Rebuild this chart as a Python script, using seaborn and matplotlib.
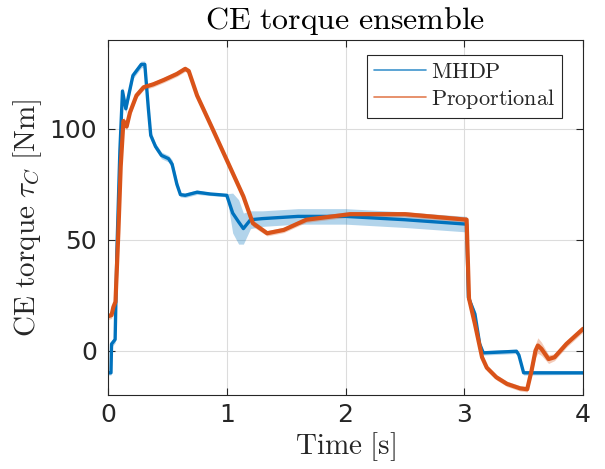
import numpy as np
import pandas as pd
import matplotlib
matplotlib.use("Agg")
import matplotlib.pyplot as plt
import seaborn as sns
from matplotlib.lines import Line2D

# ---------------- data ----------------
mhdp_t = [0, 0.025, 0.03, 0.06, 0.075, 0.10, 0.122, 0.15, 0.21, 0.28, 0.31, 0.34, 0.36, 0.40,
          0.45, 0.51, 0.54, 0.58, 0.61, 0.65, 0.75, 0.86, 1.00, 1.05, 1.10, 1.14, 1.20, 1.30,
          1.60, 2.00, 2.50, 3.02, 3.035, 3.09, 3.13, 3.16, 3.44, 3.46, 3.50, 4.00]
mhdp_v = [-10, -10, 3, 5, 45, 90, 117, 109, 124, 129, 129, 109, 97, 92,
          88, 86.5, 84, 75, 70.3, 70, 71.4, 70.6, 70, 62, 58, 55, 59, 59.5,
          60.5, 60.5, 59, 57, 24, 16.5, 3, -1, -0.3, -2, -10, -10]
mhdp_spread = [1, 1, 1.5, 1.5, 2, 2, 2, 2, 1.5, 1.5, 1.5, 2, 2, 1.5,
               1.5, 1.5, 2, 2, 1, 1, 1, 0.7, 0.7, 9, 10, 7, 4, 3.5,
               3.5, 3.5, 3.5, 3.5, 1.5, 1.5, 1.5, 1, 1, 1.5, 1, 0.7]

prop_t = [0, 0.03, 0.045, 0.063, 0.087, 0.107, 0.13, 0.157, 0.185, 0.24, 0.30, 0.38, 0.47,
          0.58, 0.65, 0.68, 0.75, 0.88, 1.14, 1.22, 1.34, 1.48, 1.67, 2.04, 2.50, 3.02, 3.04,
          3.09, 3.15, 3.19, 3.27, 3.36, 3.47, 3.53, 3.567, 3.60, 3.62, 3.65, 3.71, 3.76, 3.86, 4.00]
prop_v = [15.5, 16, 19.6, 22, 53, 83, 103.5, 101, 107.3, 115, 118.7, 120, 122,
          124.7, 127, 126, 115, 100, 69.5, 57.4, 52.9, 54.4, 59, 61.5, 61.5, 59, 23.5,
          12, -3, -7.7, -12, -15, -17, -17.4, -9, 0, 2.3, 0.8, -3.8, -3, 3, 9.8]
prop_spread = [1.5, 1.5, 1.5, 1.5, 2, 2, 2, 1.5, 1.5, 1.2, 1.2, 1.2, 1.2,
               1.2, 1.2, 1.2, 1.5, 1.5, 1.5, 1.5, 1.2, 1.2, 1.2, 1.2, 1.2, 1.2, 1.5,
               1.5, 1.2, 1.2, 1.2, 1.2, 1.2, 1.2, 2, 3, 3.5, 3, 2, 1.5, 1.5, 1.5]

methods = ["MHDP", "Proportional"]
colors = ["#0072BD", "#D95319"]
x_ticks = [0, 1, 2, 3, 4]
y_ticks = [0, 50, 100]

# ---------------- style ----------------
sns.set_style("white")
plt.rcParams["mathtext.fontset"] = "cm"
plt.rcParams["font.family"] = ["DejaVu Sans"]

fig = plt.figure(figsize=(6.05, 4.69), dpi=100)
ax = fig.add_axes([108 / 605, 1 - 395 / 469, 475 / 605, 355 / 469])

df = pd.concat([
    pd.DataFrame({"t": mhdp_t, "v": mhdp_v, "s": mhdp_spread, "method": methods[0]}),
    pd.DataFrame({"t": prop_t, "v": prop_v, "s": prop_spread, "method": methods[1]}),
], ignore_index=True)

for m, c, lw in zip(methods, colors, [2.4, 3.0]):
    d = df[df["method"] == m]
    ax.fill_between(d["t"], d["v"] - d["s"], d["v"] + d["s"], color=c, alpha=0.3, lw=0)
    sns.lineplot(data=d, x="t", y="v", color=c, lw=lw, estimator=None, sort=False,
                 ax=ax, legend=False)

ax.set_xlim(0, 4)
ax.set_ylim(-20, 140)
ax.set_xticks(x_ticks)
ax.set_yticks(y_ticks)
ax.grid(True, color="#dcdcdc", lw=0.8)
ax.set_axisbelow(True)
for sp in ax.spines.values():
    sp.set_visible(True)
    sp.set_color("#262626")
    sp.set_linewidth(0.8)
ax.tick_params(direction="in", length=5, width=0.8, colors="#262626", labelsize=18,
               top=True, right=True, left=True, bottom=True)
ax.tick_params(axis="x", pad=6)
ax.tick_params(axis="y", pad=8)

ax.set_title(r"$\mathrm{CE\ torque\ ensemble}$", fontsize=23, pad=8, color="#000000")
ax.set_xlabel(r"$\mathrm{Time\ [s]}$", fontsize=21, labelpad=2)
ax.set_ylabel(r"$\mathrm{CE\ torque\ }\tau_C\mathrm{\ [Nm]}$", fontsize=21, labelpad=4)

handles = [Line2D([0], [0], color=c, lw=1.2, alpha=0.75) for c in colors]
leg = ax.legend(handles, [r"$\mathrm{MHDP}$", r"$\mathrm{Proportional}$"],
                loc="upper right", bbox_to_anchor=(0.956, 0.958), fontsize=16,
                frameon=True, fancybox=False, framealpha=1, edgecolor="#262626",
                handlelength=2.35, handletextpad=0.25, borderpad=0.3, labelspacing=0.25,
                borderaxespad=0)
leg.get_frame().set_linewidth(0.8)

fig.savefig("out.png", dpi=100)
